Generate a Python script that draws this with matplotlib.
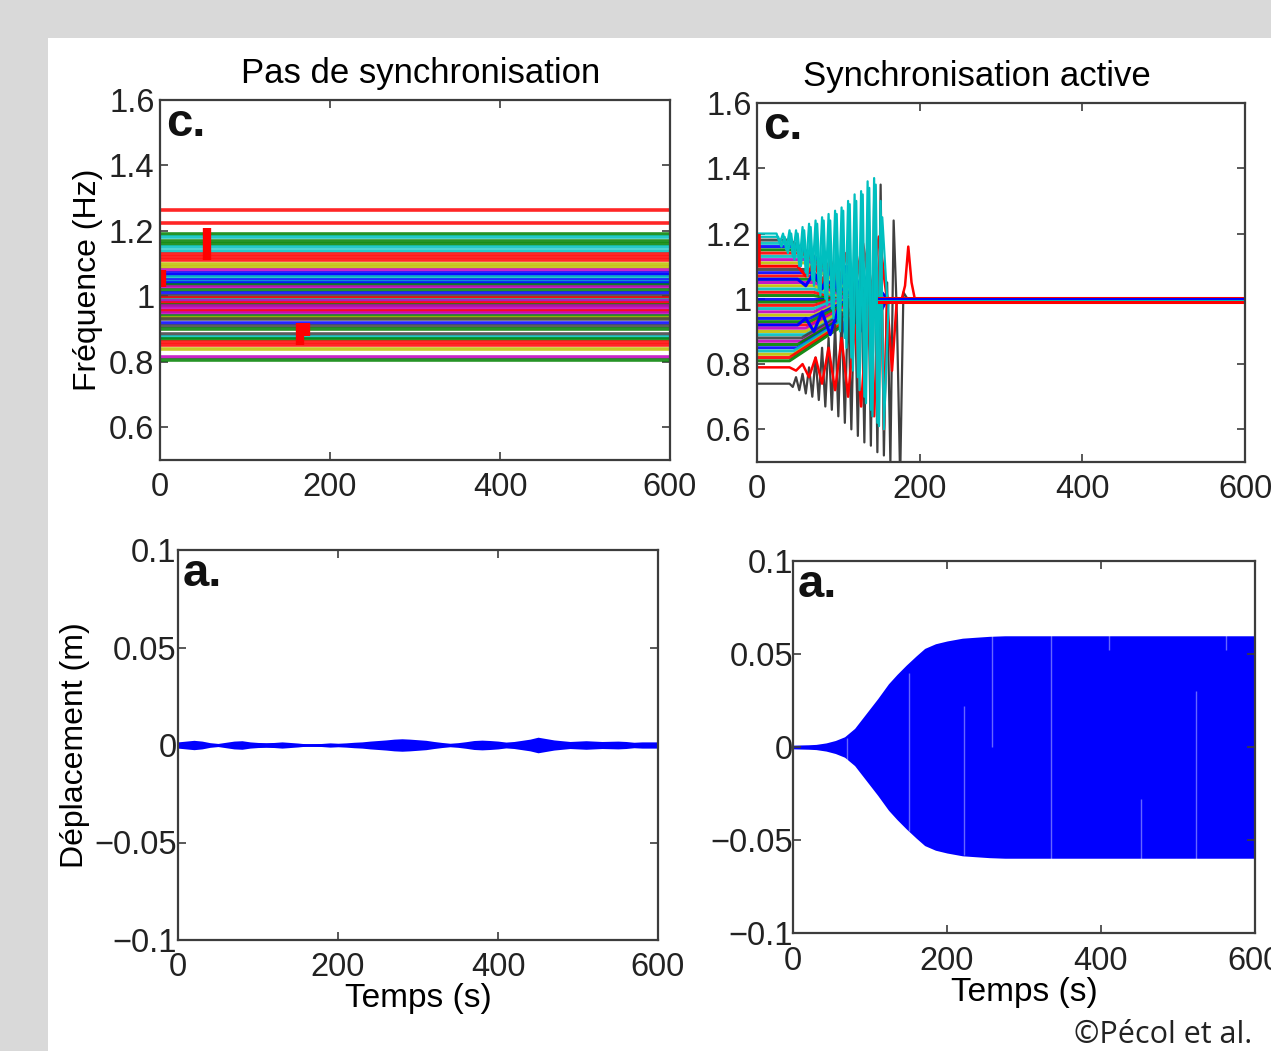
import matplotlib
matplotlib.use("Agg")
import matplotlib.pyplot as plt
from matplotlib.patches import Rectangle

plt.rcParams['font.family'] = ['Liberation Sans', 'DejaVu Sans']

# MATLAB-like colours
MC = {'b': (0, 0, 1), 'g': (0, 0.5, 0), 'r': (1, 0, 0), 'c': (0, 0.75, 0.75),
      'm': (0.75, 0, 0.75), 'y': (0.75, 0.75, 0), 'k': (0.25, 0.25, 0.25)}

# ---------------- Data ----------------
# Top-left: no synchronisation -> constant frequencies (Hz)
nosync_freq = [1.265, 1.225, 1.19, 1.18, 1.17, 1.16, 1.15, 1.14, 1.13, 1.12, 1.11, 1.10,
               1.09, 1.08, 1.07, 1.065, 1.06, 1.05, 1.045, 1.04, 1.035, 1.03, 1.02, 1.01,
               1.00, 0.995, 0.99, 0.985, 0.98, 0.975, 0.97, 0.96, 0.955, 0.95, 0.94, 0.935,
               0.93, 0.92, 0.91, 0.90, 0.885, 0.875, 0.87, 0.86, 0.85, 0.84, 0.815, 0.805]
nosync_color = ['r', 'r', 'g', 'c', 'g', 'g', 'c', 'c', 'r', 'r', 'r', 'y',
                'y', 'm', 'b', 'b', 'c', 'b', 'c', 'b', 'g', 'm', 'g', 'b',
                'k', 'r', 'c', 'm', 'r', 'g', 'm', 'm', 'r', 'm', 'g', 'y',
                'k', 'b', 'k', 'g', 'k', 'c', 'g', 'r', 'r', 'y', 'm', 'g']
# red transient marks (time, low, high)
nosync_mark_t = [2, 55, 165, 172]
nosync_mark_lo = [1.03, 1.11, 0.85, 0.88]
nosync_mark_hi = [1.08, 1.21, 0.92, 0.92]

# Top-right: active synchronisation
sync_f0 = [1.18, 1.17, 1.16, 1.15, 1.14, 1.13, 1.12, 1.11, 1.09, 1.08, 1.07, 1.06,
           1.05, 1.04, 1.03, 1.02, 1.01, 1.00, 0.99, 0.98, 0.97, 0.96, 0.95, 0.94,
           0.93, 0.92, 0.91, 0.90, 0.89, 0.88, 0.87, 0.86, 0.85, 0.84, 0.83, 0.82, 0.81]
sync_color = ['k', 'c', 'b', 'g', 'r', 'c', 'm', 'y', 'k', 'b', 'r', 'g',
              'm', 'y', 'c', 'r', 'g', 'b', 'g', 'r', 'c', 'm', 'y', 'b',
              'g', 'r', 'm', 'y', 'c', 'k', 'm', 'g', 'b', 'c', 'y', 'r', 'g']
sync_hold = [40, 40, 50, 50, 55, 55, 60, 60, 60, 65, 65, 70,
             70, 70, 70, 70, 70, 70, 70, 70, 70, 70, 70, 65,
             65, 65, 60, 60, 60, 55, 55, 50, 50, 45, 45, 40, 40]
sync_lock = [150, 148, 146, 144, 140, 138, 135, 130, 128, 125, 120, 115,
             110, 105, 100, 95, 90, 80, 90, 95, 100, 105, 110, 115,
             120, 125, 128, 130, 135, 138, 140, 144, 146, 148, 150, 152, 155]

cyan_t = [0, 24, 28, 32, 36, 40, 44, 48, 52, 56, 60, 64, 68, 72, 76, 80, 84, 88, 92,
          96, 100, 104, 108, 112, 116, 120, 124, 128, 132, 136, 140, 144, 148, 152, 156, 162, 600]
cyan_v = [1.20, 1.20, 1.17, 1.20, 1.15, 1.21, 1.13, 1.21, 1.10, 1.22, 1.08, 1.23, 1.06,
          1.24, 1.03, 1.25, 1.00, 1.26, 0.97, 1.27, 0.93, 1.28, 0.88, 1.30, 0.82, 1.32,
          0.76, 1.33, 0.70, 1.36, 0.66, 1.37, 0.62, 1.30, 0.60, 1.00, 1.00]
cyan2_t = [0, 26, 30, 34, 38, 42, 46, 50, 54, 58, 62, 66, 70, 74, 78, 82, 86, 90, 94,
           98, 102, 106, 110, 114, 118, 122, 126, 130, 134, 138, 142, 146, 150, 154, 160, 600]
cyan2_v = [1.19, 1.19, 1.16, 1.19, 1.14, 1.20, 1.12, 1.20, 1.10, 1.21, 1.07, 1.22, 1.04,
           1.23, 1.01, 1.24, 0.98, 1.24, 0.94, 1.26, 0.90, 1.27, 0.85, 1.29, 0.78, 1.30,
           0.72, 1.32, 0.68, 1.34, 0.64, 1.35, 0.61, 1.25, 1.00, 1.00]
black_t = [0, 40, 44, 48, 52, 56, 60, 64, 68, 72, 76, 80, 84, 88, 92, 96, 100, 104, 108,
           112, 116, 120, 124, 128, 132, 136, 140, 144, 148, 152, 156, 160, 164, 168, 172,
           176, 180, 185, 600]
black_v = [0.74, 0.74, 0.73, 0.76, 0.72, 0.77, 0.71, 0.79, 0.70, 0.82, 0.69, 0.85, 0.67,
           0.88, 0.66, 0.92, 0.64, 0.96, 0.62, 1.00, 0.60, 1.05, 0.58, 1.12, 0.56, 1.20,
           0.55, 1.30, 0.53, 1.35, 0.52, 1.05, 0.50, 1.24, 0.95, 0.45, 1.02, 1.00, 1.00]
red_t = [0, 40, 48, 56, 64, 72, 80, 88, 96, 104, 112, 120, 128, 136, 144, 152, 156, 160,
         166, 172, 178, 182, 186, 190, 194, 198, 600]
red_v = [0.79, 0.79, 0.78, 0.80, 0.76, 0.82, 0.74, 0.85, 0.72, 0.88, 0.70, 0.92, 0.67,
         0.98, 0.64, 1.22, 0.60, 1.00, 0.78, 1.00, 1.00, 1.04, 1.16, 1.05, 1.00, 1.00, 1.00]
wig_t = [0, 50, 60, 70, 80, 90, 100, 110, 120, 130, 140, 150, 160]
redm_v = [1.10, 1.10, 1.07, 1.11, 1.05, 1.12, 1.04, 1.14, 1.03, 1.17, 1.02, 1.19, 1.00]
bluem_v = [0.92, 0.92, 0.94, 0.90, 0.96, 0.89, 0.97, 0.88, 0.98, 0.90, 0.99, 0.95, 1.00]
bluem2_v = [1.06, 1.06, 1.04, 1.08, 1.03, 1.09, 1.02, 1.10, 1.01, 1.08, 1.00, 1.03, 1.00]
final_levels = [1.004, 0.998, 0.993, 0.989]
final_colors = ['r', 'b', 'c', 'r']

# Bottom-left: displacement envelope (m), no synchronisation
disp0_t = [0, 10, 20, 30, 40, 50, 60, 70, 80, 90, 100, 110, 120, 130, 140, 150, 160, 170,
           180, 190, 200, 210, 220, 230, 240, 250, 260, 270, 280, 290, 300, 310, 320, 330,
           340, 350, 360, 370, 380, 390, 400, 410, 420, 430, 440, 450, 460, 470, 480, 490,
           500, 510, 520, 530, 540, 550, 560, 570, 580, 590, 600]
disp0_a = [0.0016, 0.0020, 0.0024, 0.0020, 0.0012, 0.0008, 0.0014, 0.0020, 0.0022, 0.0016,
           0.0013, 0.0012, 0.0013, 0.0016, 0.0013, 0.0010, 0.0006, 0.0006, 0.0008, 0.0011,
           0.0009, 0.0011, 0.0014, 0.0016, 0.0020, 0.0023, 0.0026, 0.0030, 0.0032, 0.0030,
           0.0027, 0.0024, 0.0018, 0.0013, 0.0009, 0.0012, 0.0017, 0.0023, 0.0025, 0.0023,
           0.0020, 0.0015, 0.0018, 0.0024, 0.0030, 0.0040, 0.0033, 0.0026, 0.0022, 0.0018,
           0.0020, 0.0022, 0.0020, 0.0018, 0.0019, 0.0020, 0.0018, 0.0014, 0.0016, 0.0016,
           0.0016]

# Bottom-right: displacement envelope (m), active synchronisation
disp1_t = [0, 20, 30, 43, 55, 67, 80, 95, 110, 124, 135, 147, 160, 171, 185, 200, 220,
           237, 255, 275, 600]
disp1_a = [0.0010, 0.0012, 0.0014, 0.0022, 0.0035, 0.0055, 0.0100, 0.0180, 0.0260,
           0.0340, 0.0390, 0.0440, 0.0490, 0.0530, 0.0555, 0.0570, 0.0585, 0.0590,
           0.0595, 0.0598, 0.0598]
gap_t = [70, 150, 222, 258, 335, 410, 452, 523, 562]
gap_lo = [-0.010, -0.045, -0.058, 0.000, -0.060, 0.052, -0.060, -0.060, 0.052]
gap_hi = [0.005, 0.040, 0.022, 0.060, 0.060, 0.060, -0.028, 0.030, 0.060]

TICK = 23.5
LABEL = 23
LETTER = 34

# ---------------- Figure ----------------
W, H = 1271, 1051
fig = plt.figure(figsize=(W / 100, H / 100), dpi=100, facecolor='#d9d9d9')
fig.patches.append(Rectangle((48 / W, 0), 1 - 48 / W, 1 - 38 / H,
                             transform=fig.transFigure, facecolor='white',
                             edgecolor='none', zorder=-10))


def make_ax(l, r, t, b, ypad=4):
    ax = fig.add_axes([l / W, 1 - b / H, (r - l) / W, (b - t) / H])
    ax.set_zorder(5)
    for s in ax.spines.values():
        s.set_color('#3c3c3c')
        s.set_linewidth(1.6)
    ax.tick_params(direction='in', top=True, right=True, length=6, width=1.2,
                   color='#3c3c3c', labelsize=TICK, labelcolor='#222222')
    ax.tick_params(axis='x', pad=9)
    ax.tick_params(axis='y', pad=ypad)
    ax.set_xlim(0, 600)
    ax.set_xticks([0, 200, 400, 600])
    return ax


def letter(ax, s, x):
    ax.text(x, 0.995, s, transform=ax.transAxes, fontsize=LETTER, va='top', ha='left',
            fontweight='bold', color='#111111')


# Top-left
ax1 = make_ax(160, 670, 100, 460)
ax1.set_ylim(0.5, 1.6)
ax1.set_yticks([0.6, 0.8, 1.0, 1.2, 1.4, 1.6])
ax1.set_yticklabels(['0.6', '0.8', '1', '1.2', '1.4', '1.6'])
for f, c in zip(nosync_freq, nosync_color):
    ax1.plot([0, 600], [f, f], color=MC[c], lw=2.6, alpha=0.85, solid_capstyle='butt')
ax1.vlines(nosync_mark_t, nosync_mark_lo, nosync_mark_hi, color=MC['r'], lw=6)
ax1.set_title('Pas de synchronisation', fontsize=25, x=0.512, pad=12)
ax1.set_ylabel('Fréquence (Hz)', fontsize=LABEL, labelpad=4)
letter(ax1, 'c.', 0.012)

# Top-right
ax2 = make_ax(757, 1245, 103, 462)
ax2.set_ylim(0.5, 1.6)
ax2.set_yticks([0.6, 0.8, 1.0, 1.2, 1.4, 1.6])
ax2.set_yticklabels(['0.6', '0.8', '1', '1.2', '1.4', '1.6'])
for f, c, h, lk in zip(sync_f0, sync_color, sync_hold, sync_lock):
    ax2.plot([0, h, lk, 600], [f, f, 1.0, 1.0], color=MC[c], lw=2.2, alpha=0.9)
ax2.plot(wig_t, redm_v, color=MC['r'], lw=2.2)
ax2.plot(wig_t, bluem_v, color=MC['b'], lw=2.2)
ax2.plot(wig_t, bluem2_v, color=MC['b'], lw=2.2)
ax2.plot(black_t, black_v, color=MC['k'], lw=1.6)
ax2.plot(red_t, red_v, color=MC['r'], lw=1.8)
ax2.plot(cyan2_t, cyan2_v, color=MC['c'], lw=1.6)
ax2.plot(cyan_t, cyan_v, color=MC['c'], lw=1.6)
for lv, c in zip(final_levels, final_colors):
    ax2.plot([150, 600], [lv, lv], color=MC[c], lw=2.2)
ax2.vlines([1], [1.10], [1.20], color=MC['r'], lw=4)
ax2.set_title('Synchronisation active', fontsize=25, x=0.451, pad=12)
letter(ax2, 'c.', 0.012)

# Bottom-left
ax3 = make_ax(178, 658, 550, 940, ypad=1)
ax3.set_ylim(-0.1, 0.1)
ax3.set_yticks([-0.1, -0.05, 0, 0.05, 0.1])
ax3.set_yticklabels(['\u22120.1', '\u22120.05', '0', '0.05', '0.1'])
ax3.fill_between(disp0_t, [-a for a in disp0_a], disp0_a, color=MC['b'], lw=0)
ax3.plot([0, 600], [0, 0], color=MC['b'], lw=2)
ax3.set_xlabel('Temps (s)', fontsize=LABEL + 1, labelpad=0)
ax3.set_ylabel('Déplacement (m)', fontsize=LABEL, labelpad=3)
letter(ax3, 'a.', 0.01)

# Bottom-right
ax4 = make_ax(793, 1255, 561, 933, ypad=0)
ax4.set_ylim(-0.1, 0.1)
ax4.set_yticks([-0.1, -0.05, 0, 0.05, 0.1])
ax4.set_yticklabels(['\u22120.1', '\u22120.05', '0', '0.05', '0.1'])
ax4.fill_between(disp1_t, [-a for a in disp1_a], disp1_a, color=MC['b'], lw=0)
ax4.vlines(gap_t, gap_lo, gap_hi, color='white', lw=1.0, alpha=0.4)
ax4.set_xlabel('Temps (s)', fontsize=LABEL + 1, labelpad=0)
letter(ax4, 'a.', 0.01)

fig.text(1163 / W, 1 - 1035 / H, '\u00a9Pécol et al.', fontsize=22,
         family=['Open Sans', 'DejaVu Sans'], ha='center', va='center', color='#222222')

fig.savefig('out.png', dpi=100, facecolor=fig.get_facecolor())
